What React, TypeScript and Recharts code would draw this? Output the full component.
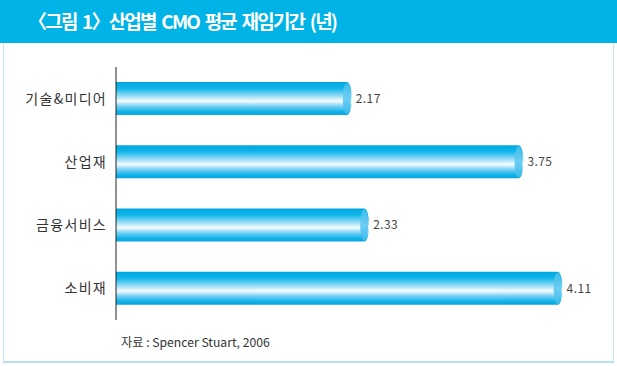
import { BarChart, Bar, XAxis, YAxis, LabelList } from 'recharts'

const industries = ['기술&미디어', '산업재', '금융서비스', '소비재']
const tenureYears = [2.17, 3.75, 2.33, 4.11]

const data = industries.map((name, i) => ({ name, value: tenureYears[i] }))

const FONT = '"Noto Sans CJK KR", "Noto Sans", sans-serif'

function CylinderBar(props: any) {
  const { x, y, width, height } = props
  if (!width || width <= 0) return null
  const rx = 5
  const ry = height / 2
  const endX = x + width - rx
  const d = `M${x},${y} L${endX},${y} A${rx},${ry} 0 0 1 ${endX},${y + height} L${x},${y + height} Z`
  return (
    <g>
      <path d={d} fill="url(#cyl)" />
      <ellipse cx={endX} cy={y + ry} rx={rx - 1} ry={ry - 1} fill="url(#cap)" />
    </g>
  )
}

export default function App() {
  return (
    <div style={{ position: 'absolute', left: 0, top: 0, width: 617, height: 366, background: '#fff', fontFamily: FONT }}>
      <div style={{ position: 'absolute', left: 0, top: 0, width: 617, height: 43, background: '#00b3e6' }} />
      <div
        style={{
          position: 'absolute',
          left: 28,
          top: 8,
          color: '#fff',
          fontWeight: 700,
          fontSize: 19,
          letterSpacing: -1.8,
          wordSpacing: 3,
          whiteSpace: 'nowrap',
          lineHeight: '26px',
        }}
      >
        〈그림 1〉산업별 CMO 평균 재임기간 (년)
      </div>
      <div
        style={{
          position: 'absolute',
          left: 3,
          top: 43,
          width: 609,
          height: 318,
          borderLeft: '1px solid #c4e8f5',
          borderRight: '1px solid #c4e8f5',
          borderBottom: '2px solid #b5e1f2',
        }}
      />
      <div style={{ position: 'absolute', left: 0, top: 0 }}>
        <BarChart
          width={617}
          height={366}
          data={data}
          layout="vertical"
          margin={{ top: 67, right: 12, bottom: 46, left: 16 }}
          barSize={33}
        >
          <defs>
            <linearGradient id="cyl" x1="0" y1="0" x2="0" y2="1">
              <stop offset="0%" stopColor="#00a6de" />
              <stop offset="20%" stopColor="#12b6ea" />
              <stop offset="45%" stopColor="#a8e2f7" />
              <stop offset="58%" stopColor="#f4fcff" />
              <stop offset="75%" stopColor="#6ccdf2" />
              <stop offset="90%" stopColor="#10b2e8" />
              <stop offset="100%" stopColor="#0aa4dc" />
            </linearGradient>
            <linearGradient id="cap" x1="0" y1="0" x2="0" y2="1">
              <stop offset="0%" stopColor="#3cbdec" />
              <stop offset="50%" stopColor="#6ccdf2" />
              <stop offset="100%" stopColor="#3cbdec" />
            </linearGradient>
          </defs>
          <XAxis type="number" domain={[0, 4.5]} hide />
          <YAxis
            type="category"
            dataKey="name"
            width={100}
            axisLine={{ stroke: '#222', strokeWidth: 1 }}
            tickLine={false}
            tickSize={0}
            tickMargin={9}
            tick={{ fontSize: 14, fill: '#333', fontFamily: FONT, letterSpacing: 1.3 }}
          />
          <Bar dataKey="value" shape={<CylinderBar />} isAnimationActive={false}>
            <LabelList
              dataKey="value"
              position="right"
              offset={4}
              formatter={(v: any) => Number(v).toFixed(2)}
              style={{ fontSize: 12, fill: '#444', fontFamily: FONT, letterSpacing: 0.4 }}
            />
          </Bar>
        </BarChart>
      </div>
      <div
        style={{
          position: 'absolute',
          left: 121,
          top: 333,
          fontSize: 12.2,
          color: '#333',
          whiteSpace: 'nowrap',
        }}
      >
        자료 : Spencer Stuart, 2006
      </div>
    </div>
  )
}
